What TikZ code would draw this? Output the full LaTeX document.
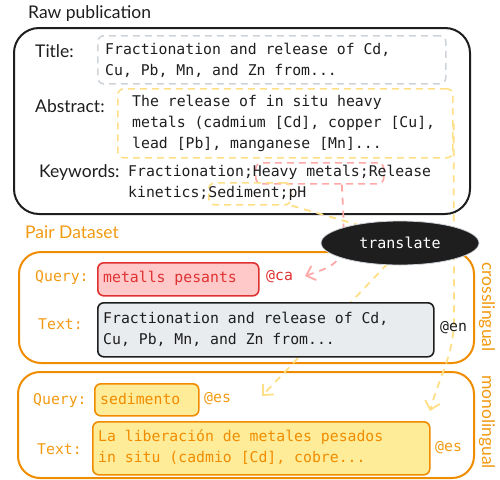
\documentclass[tikz,border=0pt]{standalone}
\usepackage{fontspec}
\setmainfont{Lato}
\setmonofont{DejaVu Sans Mono}
\usetikzlibrary{arrows.meta,shapes.geometric,calc}

\definecolor{ink}{HTML}{1E1E1E}
\definecolor{orng}{HTML}{F08C00}
\definecolor{orngtxt}{HTML}{F29A12}
\definecolor{redln}{HTML}{E03131}
\definecolor{redfill}{HTML}{FFC9C9}
\definecolor{yelfill}{HTML}{FFEC99}
\definecolor{grayfill}{HTML}{E9ECEF}
\definecolor{graydash}{HTML}{CED4DA}
\definecolor{yeldash}{HTML}{FFDF85}
\definecolor{reddash}{HTML}{FFA8A8}

\begin{document}
\begin{tikzpicture}[x=1pt,y=-1pt,
  lbl/.style={font=\fontsize{17.5}{20}\selectfont, text=ink, anchor=west, inner sep=0pt},
  mono/.style={font=\ttfamily\fontsize{14.8}{21}\selectfont, anchor=west, inner sep=0pt, align=left},
  frame/.style={rectangle, anchor=north west, inner sep=0pt},
  group/.style={frame, draw=orng, line width=2pt, rounded corners=22pt},
  hilite/.style={frame, dashed, dash pattern=on 7pt off 5pt, line width=1.6pt, rounded corners=6pt},
  chip/.style={frame, line width=1.6pt, rounded corners=6pt},
  link/.style={line width=1.8pt, dash pattern=on 7pt off 6pt,
    -{Straight Barb[length=8pt,width=15pt,line width=1.8pt]}},
]
\useasboundingbox (0,0) rectangle (500,479);

% ---------- raw publication ----------
\node[lbl] (rawlbl) at (28,14) {Raw publication};
\node[frame, draw=ink, line width=2pt, rounded corners=25pt,
      minimum width=456pt, minimum height=186pt] (raw) at (13,27) {};

\node[lbl] (tilbl) at (35,51) {Title:};
\node[hilite, draw=graydash, minimum width=348pt, minimum height=48pt] (ti) at (97,35) {};
\node[mono, text=ink] (titxt) at (105,60.5)
  {Fractionation and release of Cd,\\Cu, Pb, Mn, and Zn from...};

\node[lbl] (ablbl) at (35,106) {Abstract:};
\node[hilite, draw=yeldash, minimum width=335pt, minimum height=69pt] (ab) at (117,88) {};
\node[mono, text=ink] (abtxt) at (132,123)
  {The release of in situ heavy\\metals (cadmium [Cd], copper [Cu],\\lead [Pb], manganese [Mn]...};

\node[lbl] (kwlbl) at (39,173) {Keywords:};
\node[hilite, draw=reddash, minimum width=128pt, minimum height=21pt] (hm) at (255,162) {};
\node[hilite, draw=yeldash, minimum width=82pt, minimum height=22pt] (sed) at (208,182) {};
\node[mono, text=ink] (kwtxt) at (128,182.5)
  {Fractionation;Heavy metals;Release\\kinetics;Sediment;pH};

% ---------- pair dataset ----------
\node[lbl, text=orngtxt] (pairlbl) at (25,232) {Pair Dataset};
\node[group, minimum width=455pt, minimum height=111pt] (cross) at (18,251) {};
\node[group, minimum width=456pt, minimum height=106pt] (monob) at (17,371) {};
\node[lbl, text=orngtxt, rotate=-90, anchor=center] (crosslbl) at (487,307) {crosslingual};
\node[lbl, text=orngtxt, rotate=-90, anchor=center] (monolbl) at (487,422) {monolingual};

% end points of the translation links
\coordinate (catip) at (305,276);
\coordinate (qtip) at (262,396);
\coordinate (ttip) at (430,411);

% translation links (drawn under the chips and the translate badge)
\draw[link, draw=yeldash] (ab.east) -- (454,318) to[out=-90,in=75] (ttip);
\draw[link, draw=yeldash] (sed.south east) -- (410,240) -- (qtip);
\draw[link, draw=reddash] ($(hm.south)+(22,0)$) .. controls (346,262) .. (catip);

% crosslingual pair
\node[mono, text=orngtxt] (q1lbl) at (35,278) {Query:};
\node[chip, draw=redln, fill=redfill, minimum width=161pt, minimum height=33pt] (q1) at (97,262) {};
\node[mono, text=redln] (q1txt) at (103,278) {metalls pesants};
\node[mono, text=redln] (q1tag) at (266,277) {@ca};

\node[mono, text=orngtxt] (t1lbl) at (38,324) {Text:};
\node[chip, draw=ink, fill=grayfill, minimum width=336pt, minimum height=54pt] (t1) at (97,302) {};
\node[mono, text=ink] (t1txt) at (103,329)
  {Fractionation and release of Cd,\\Cu, Pb, Mn, and Zn from...};
\node[mono, text=ink] (t1tag) at (440,328) {@en};

% monolingual pair
\node[mono, text=orngtxt] (q2lbl) at (33,401) {Query:};
\node[chip, draw=orng, fill=yelfill, minimum width=104pt, minimum height=32pt] (q2) at (94,383) {};
\node[mono, text=orng] (q2txt) at (100,399) {sedimento};
\node[mono, text=orngtxt] (q2tag) at (204,399) {@es};

\node[mono, text=orngtxt] (t2lbl) at (37,449) {Text:};
\node[chip, draw=orng, fill=yelfill, minimum width=337pt, minimum height=53pt] (t2) at (92,421) {};
\node[mono, text=orng] (t2txt) at (98,447.5)
  {La liberación de metales pesados\\in situ (cadmio [Cd], cobre...};
\node[mono, text=orngtxt] (t2tag) at (435,448) {@es};

% translate badge
\node[ellipse, fill=ink, draw=graydash, line width=0.8pt, minimum width=158pt,
      minimum height=44pt, inner sep=0pt, text=white,
      font=\ttfamily\fontsize{15}{18}\selectfont] (tr) at (400,243) {translate};
\end{tikzpicture}
\end{document}
